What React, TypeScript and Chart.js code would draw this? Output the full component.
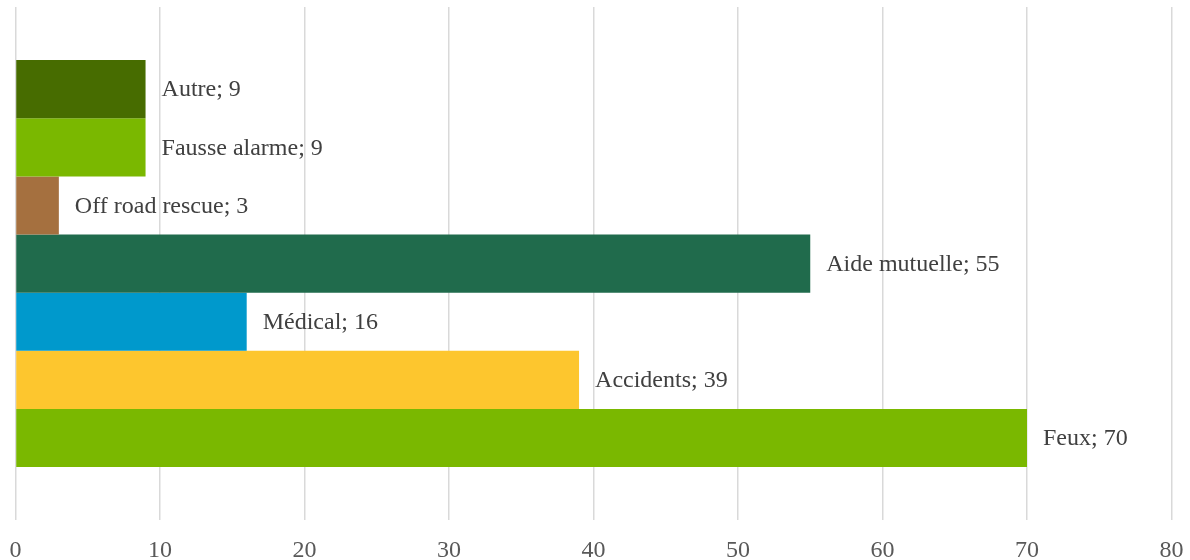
import React, { useEffect, useRef } from "react";
import { Chart, registerables } from "chart.js";

Chart.register(...registerables);

const seriesNames = ["Autre", "Fausse alarme", "Off road rescue", "Aide mutuelle", "Médical", "Accidents", "Feux"];
const seriesValues = [9, 9, 3, 55, 16, 39, 70];
const seriesColors = ["#476c00", "#7ab800", "#a5703f", "#206b4c", "#0099cc", "#fdc62e", "#7ab800"];
const categories = [""];
const FONT = "'Liberation Serif', 'Times New Roman', serif";

const labelPlugin = {
  id: "endLabels",
  afterDatasetsDraw(chart: any) {
    const ctx = chart.ctx;
    ctx.save();
    ctx.font = `24px ${FONT}`;
    ctx.fillStyle = "#404040";
    ctx.textAlign = "left";
    ctx.textBaseline = "middle";
    chart.data.datasets.forEach((ds: any, i: number) => {
      const meta = chart.getDatasetMeta(i);
      meta.data.forEach((bar: any, j: number) => {
        ctx.fillText(`${ds.label}; ${ds.data[j]}`, bar.x + 16, bar.y + 1);
      });
    });
    ctx.restore();
  },
};

export default function App() {
  const ref = useRef<HTMLCanvasElement>(null);
  useEffect(() => {
    document.body.style.margin = "0";
    const chart = new Chart(ref.current!, {
      type: "bar",
      data: {
        labels: categories,
        datasets: seriesNames.map((n, i) => ({
          label: n,
          data: [seriesValues[i]],
          backgroundColor: seriesColors[i],
          borderWidth: 0,
          categoryPercentage: 0.793,
          barPercentage: 1,
        })),
      },
      options: {
        indexAxis: "y",
        animation: false,
        responsive: false,
        maintainAspectRatio: false,
        layout: { padding: { left: 15.5, right: 18.5, top: 7, bottom: -5 } },
        plugins: { legend: { display: false }, tooltip: { enabled: false } },
        scales: {
          x: {
            min: 0,
            max: 80,
            ticks: { stepSize: 10, color: "#595959", font: { family: FONT, size: 24 }, padding: 0 },
            grid: { color: "#d9d9d9", lineWidth: 1.5, drawTicks: true, tickLength: 16, tickColor: "rgba(0,0,0,0)" },
            border: { display: false },
          },
          y: {
            display: false,
          },
        },
      },
      plugins: [labelPlugin],
    });
    return () => chart.destroy();
  }, []);
  return (
    <div style={{ width: 1190, height: 560 }}>
      <canvas ref={ref} width={1190} height={560} style={{ display: "block" }} />
    </div>
  );
}
